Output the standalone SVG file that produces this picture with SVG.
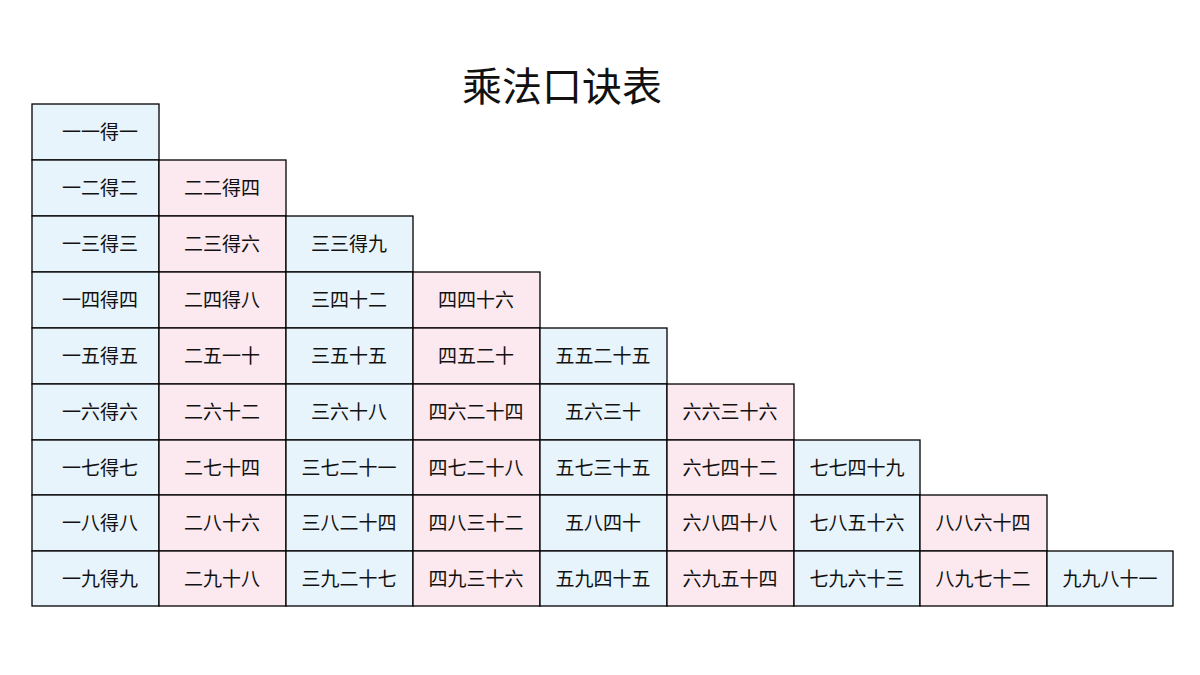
<svg xmlns="http://www.w3.org/2000/svg" width="1200" height="675" viewBox="0 0 1200 675">
<style>
.b{fill:#e8f4fb;stroke:#000;stroke-width:1.3}
.p{fill:#fce9ef;stroke:#000;stroke-width:1.3}
text{font-family:"Noto Sans CJK SC","Noto Sans CJK JP",sans-serif;fill:#111;text-anchor:middle}
.t{font-size:19px}
.h{font-size:40px}
</style>
<rect width="1200" height="675" fill="#fff"/>
<text class="h" x="562" y="101">乘法口诀表</text>
<g id="r1">
<g id="c1-1"><rect class="b" x="32" y="104" width="127" height="56"/><text class="t" x="100" y="139">一一得一</text></g>
</g>
<g id="r2">
<g id="c2-1"><rect class="b" x="32" y="160" width="127" height="56"/><text class="t" x="100" y="195">一二得二</text></g>
<g id="c2-2"><rect class="p" x="159" y="160" width="127" height="56"/><text class="t" x="222" y="195">二二得四</text></g>
</g>
<g id="r3">
<g id="c3-1"><rect class="b" x="32" y="216" width="127" height="56"/><text class="t" x="100" y="251">一三得三</text></g>
<g id="c3-2"><rect class="p" x="159" y="216" width="127" height="56"/><text class="t" x="222" y="251">二三得六</text></g>
<g id="c3-3"><rect class="b" x="286" y="216" width="127" height="56"/><text class="t" x="349" y="251">三三得九</text></g>
</g>
<g id="r4">
<g id="c4-1"><rect class="b" x="32" y="272" width="127" height="56"/><text class="t" x="100" y="307">一四得四</text></g>
<g id="c4-2"><rect class="p" x="159" y="272" width="127" height="56"/><text class="t" x="222" y="307">二四得八</text></g>
<g id="c4-3"><rect class="b" x="286" y="272" width="127" height="56"/><text class="t" x="349" y="307">三四十二</text></g>
<g id="c4-4"><rect class="p" x="413" y="272" width="127" height="56"/><text class="t" x="476" y="307">四四十六</text></g>
</g>
<g id="r5">
<g id="c5-1"><rect class="b" x="32" y="328" width="127" height="56"/><text class="t" x="100" y="363">一五得五</text></g>
<g id="c5-2"><rect class="p" x="159" y="328" width="127" height="56"/><text class="t" x="222" y="363">二五一十</text></g>
<g id="c5-3"><rect class="b" x="286" y="328" width="127" height="56"/><text class="t" x="349" y="363">三五十五</text></g>
<g id="c5-4"><rect class="p" x="413" y="328" width="127" height="56"/><text class="t" x="476" y="363">四五二十</text></g>
<g id="c5-5"><rect class="b" x="540" y="328" width="127" height="56"/><text class="t" x="603" y="363">五五二十五</text></g>
</g>
<g id="r6">
<g id="c6-1"><rect class="b" x="32" y="384" width="127" height="56"/><text class="t" x="100" y="419">一六得六</text></g>
<g id="c6-2"><rect class="p" x="159" y="384" width="127" height="56"/><text class="t" x="222" y="419">二六十二</text></g>
<g id="c6-3"><rect class="b" x="286" y="384" width="127" height="56"/><text class="t" x="349" y="419">三六十八</text></g>
<g id="c6-4"><rect class="p" x="413" y="384" width="127" height="56"/><text class="t" x="476" y="419">四六二十四</text></g>
<g id="c6-5"><rect class="b" x="540" y="384" width="127" height="56"/><text class="t" x="603" y="419">五六三十</text></g>
<g id="c6-6"><rect class="p" x="667" y="384" width="127" height="56"/><text class="t" x="730" y="419">六六三十六</text></g>
</g>
<g id="r7">
<g id="c7-1"><rect class="b" x="32" y="440" width="127" height="55"/><text class="t" x="100" y="475">一七得七</text></g>
<g id="c7-2"><rect class="p" x="159" y="440" width="127" height="55"/><text class="t" x="222" y="475">二七十四</text></g>
<g id="c7-3"><rect class="b" x="286" y="440" width="127" height="55"/><text class="t" x="349" y="475">三七二十一</text></g>
<g id="c7-4"><rect class="p" x="413" y="440" width="127" height="55"/><text class="t" x="476" y="475">四七二十八</text></g>
<g id="c7-5"><rect class="b" x="540" y="440" width="127" height="55"/><text class="t" x="603" y="475">五七三十五</text></g>
<g id="c7-6"><rect class="p" x="667" y="440" width="127" height="55"/><text class="t" x="730" y="475">六七四十二</text></g>
<g id="c7-7"><rect class="b" x="794" y="440" width="126" height="55"/><text class="t" x="857" y="475">七七四十九</text></g>
</g>
<g id="r8">
<g id="c8-1"><rect class="b" x="32" y="495" width="127" height="56"/><text class="t" x="100" y="530">一八得八</text></g>
<g id="c8-2"><rect class="p" x="159" y="495" width="127" height="56"/><text class="t" x="222" y="530">二八十六</text></g>
<g id="c8-3"><rect class="b" x="286" y="495" width="127" height="56"/><text class="t" x="349" y="530">三八二十四</text></g>
<g id="c8-4"><rect class="p" x="413" y="495" width="127" height="56"/><text class="t" x="476" y="530">四八三十二</text></g>
<g id="c8-5"><rect class="b" x="540" y="495" width="127" height="56"/><text class="t" x="603" y="530">五八四十</text></g>
<g id="c8-6"><rect class="p" x="667" y="495" width="127" height="56"/><text class="t" x="730" y="530">六八四十八</text></g>
<g id="c8-7"><rect class="b" x="794" y="495" width="126" height="56"/><text class="t" x="857" y="530">七八五十六</text></g>
<g id="c8-8"><rect class="p" x="920" y="495" width="127" height="56"/><text class="t" x="983" y="530">八八六十四</text></g>
</g>
<g id="r9">
<g id="c9-1"><rect class="b" x="32" y="551" width="127" height="55"/><text class="t" x="100" y="586">一九得九</text></g>
<g id="c9-2"><rect class="p" x="159" y="551" width="127" height="55"/><text class="t" x="222" y="586">二九十八</text></g>
<g id="c9-3"><rect class="b" x="286" y="551" width="127" height="55"/><text class="t" x="349" y="586">三九二十七</text></g>
<g id="c9-4"><rect class="p" x="413" y="551" width="127" height="55"/><text class="t" x="476" y="586">四九三十六</text></g>
<g id="c9-5"><rect class="b" x="540" y="551" width="127" height="55"/><text class="t" x="603" y="586">五九四十五</text></g>
<g id="c9-6"><rect class="p" x="667" y="551" width="127" height="55"/><text class="t" x="730" y="586">六九五十四</text></g>
<g id="c9-7"><rect class="b" x="794" y="551" width="126" height="55"/><text class="t" x="857" y="586">七九六十三</text></g>
<g id="c9-8"><rect class="p" x="920" y="551" width="127" height="55"/><text class="t" x="983" y="586">八九七十二</text></g>
<g id="c9-9"><rect class="b" x="1047" y="551" width="126" height="55"/><text class="t" x="1110" y="586">九九八十一</text></g>
</g>
<g id="connectors"/>
</svg>
